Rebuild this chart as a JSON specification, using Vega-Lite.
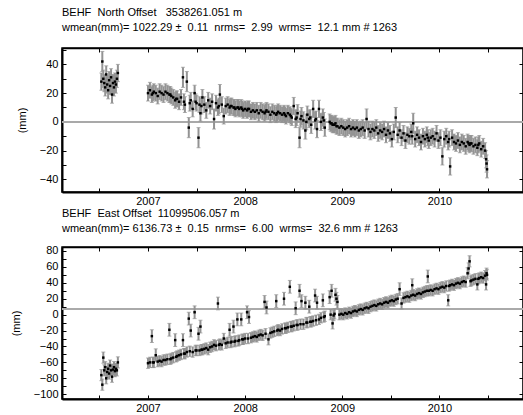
{
"$schema": "https://vega.github.io/schema/vega-lite/v6.json",
"padding": {"left": 9, "top": 6, "right": 0, "bottom": 0},
"spacing": 0,
"config": {
  "font": "Liberation Sans",
  "view": {"stroke": "black", "strokeWidth": 1.5},
  "axis": {"labelFont": "Liberation Sans", "labelFontSize": 11, "labelColor": "black", "titleFont": "Liberation Sans", "titleFontSize": 11, "titleFontWeight": "normal", "titleColor": "black", "domainColor": "black", "domainWidth": 2, "tickColor": "black", "tickSize": -4, "labelPadding": 8, "grid": false, "labelOverlap": false, "labelFlush": false},
  "axisBottom": {"labelPadding": 7},
  "title": {"font": "Liberation Sans", "fontSize": 11, "fontWeight": "normal", "color": "black", "anchor": "start", "frame": "group", "lineHeight": 15, "offset": 11}
},
"data": {"values": [
{"t":2006.52,"n":28,"ne":6,"e":-76,"ee":7},
{"t":2006.53,"n":42,"ne":7,"e":-88,"ee":7},
{"t":2006.54,"n":30,"ne":6,"e":-54,"ee":7},
{"t":2006.55,"n":27,"ne":6,"e":-70,"ee":7},
{"t":2006.56,"n":24,"ne":6,"e":-66,"ee":7},
{"t":2006.57,"n":33,"ne":6,"e":-80,"ee":7},
{"t":2006.58,"n":26,"ne":6,"e":-72,"ee":7},
{"t":2006.59,"n":22,"ne":6,"e":-68,"ee":7},
{"t":2006.60,"n":29,"ne":6,"e":-74,"ee":7},
{"t":2006.61,"n":25,"ne":6,"e":-64,"ee":7},
{"t":2006.62,"n":31,"ne":6,"e":-70,"ee":7},
{"t":2006.63,"n":19,"ne":6,"e":-78,"ee":7},
{"t":2006.64,"n":27,"ne":6,"e":-69,"ee":7},
{"t":2006.65,"n":24,"ne":6,"e":-66,"ee":7},
{"t":2006.66,"n":28,"ne":6,"e":-71,"ee":7},
{"t":2006.67,"n":26,"ne":6,"e":-68,"ee":7},
{"t":2006.68,"n":30,"ne":6,"e":-70,"ee":7},
{"t":2006.69,"n":34,"ne":6,"e":-60,"ee":7},
{"t":2007.00,"n":20,"ne":5.5,"e":-61,"ee":6.5},
{"t":2007.02,"n":22,"ne":5.5,"e":-60,"ee":6.5},
{"t":2007.04,"n":19,"ne":5.5,"e":-27,"ee":8},
{"t":2007.05,"n":20,"ne":5.5,"e":-60,"ee":6.5},
{"t":2007.06,"n":21,"ne":5.5,"e":-60,"ee":6.5},
{"t":2007.08,"n":20,"ne":5.5,"e":-51,"ee":8},
{"t":2007.10,"n":18,"ne":5.5,"e":-59,"ee":6.5},
{"t":2007.12,"n":21,"ne":5.5,"e":-58,"ee":6.5},
{"t":2007.14,"n":20,"ne":5.5,"e":-59,"ee":6.5},
{"t":2007.16,"n":19,"ne":5.5,"e":-57,"ee":6.5},
{"t":2007.18,"n":21,"ne":5.5,"e":-57,"ee":6.5},
{"t":2007.20,"n":20,"ne":5.5,"e":-56,"ee":6.5},
{"t":2007.22,"n":19,"ne":5.5,"e":-19,"ee":8},
{"t":2007.23,"n":19,"ne":5.5,"e":-56,"ee":6.5},
{"t":2007.24,"n":18,"ne":5.5,"e":-55,"ee":6.5},
{"t":2007.26,"n":17,"ne":5.5,"e":-54,"ee":6.5},
{"t":2007.28,"n":15,"ne":5.5,"e":-32,"ee":8},
{"t":2007.29,"n":16,"ne":5.5,"e":-53,"ee":6.5},
{"t":2007.30,"n":16,"ne":5.5,"e":-52,"ee":6.5},
{"t":2007.32,"n":14,"ne":5.5,"e":-51,"ee":6.5},
{"t":2007.34,"n":17,"ne":5.5,"e":-50,"ee":6.5},
{"t":2007.36,"n":31,"ne":7,"e":-32,"ee":8},
{"t":2007.37,"n":14,"ne":5.5,"e":-49,"ee":6.5},
{"t":2007.38,"n":12,"ne":5.5,"e":-49,"ee":6.5},
{"t":2007.40,"n":28,"ne":7,"e":-47,"ee":6.5},
{"t":2007.42,"n":-4,"ne":7,"e":-5,"ee":8},
{"t":2007.43,"n":13,"ne":5.5,"e":-46,"ee":6.5},
{"t":2007.44,"n":15,"ne":5.5,"e":-20,"ee":8},
{"t":2007.46,"n":9,"ne":5.5,"e":-47,"ee":6.5},
{"t":2007.48,"n":20,"ne":5.5,"e":3,"ee":8},
{"t":2007.49,"n":14,"ne":5.5,"e":-45,"ee":6.5},
{"t":2007.50,"n":13,"ne":5.5,"e":-45,"ee":6.5},
{"t":2007.52,"n":-11,"ne":7,"e":-24,"ee":8},
{"t":2007.53,"n":12,"ne":5.5,"e":-45,"ee":6.5},
{"t":2007.54,"n":6,"ne":5.5,"e":-15,"ee":8},
{"t":2007.55,"n":11,"ne":5.5,"e":-44,"ee":6.5},
{"t":2007.56,"n":17,"ne":5.5,"e":-44,"ee":6.5},
{"t":2007.58,"n":12,"ne":5.5,"e":-43,"ee":6.5},
{"t":2007.60,"n":8,"ne":5.5,"e":-42,"ee":6.5},
{"t":2007.62,"n":15,"ne":5.5,"e":-44,"ee":6.5},
{"t":2007.64,"n":11,"ne":5.5,"e":-41,"ee":6.5},
{"t":2007.66,"n":14,"ne":5.5,"e":-40,"ee":6.5},
{"t":2007.68,"n":2,"ne":7,"e":-38,"ee":6.5},
{"t":2007.70,"n":13,"ne":5.5,"e":-39,"ee":6.5},
{"t":2007.72,"n":10,"ne":5.5,"e":14,"ee":8},
{"t":2007.73,"n":11,"ne":5.5,"e":-38,"ee":6.5},
{"t":2007.74,"n":19,"ne":7,"e":-37,"ee":6.5},
{"t":2007.76,"n":12,"ne":5.5,"e":-38,"ee":6.5},
{"t":2007.78,"n":4,"ne":5.5,"e":-30,"ee":6.5},
{"t":2007.80,"n":11,"ne":5.5,"e":-36,"ee":6.5},
{"t":2007.82,"n":12,"ne":5.5,"e":-35,"ee":6.5},
{"t":2007.84,"n":10,"ne":5.5,"e":-19,"ee":8},
{"t":2007.85,"n":11,"ne":5.5,"e":-35,"ee":6.5},
{"t":2007.86,"n":11,"ne":5.5,"e":-34,"ee":6.5},
{"t":2007.88,"n":10,"ne":5.5,"e":-15,"ee":8},
{"t":2007.89,"n":10,"ne":5.5,"e":-34,"ee":6.5},
{"t":2007.90,"n":9,"ne":5.5,"e":-33,"ee":6.5},
{"t":2007.92,"n":10,"ne":5.5,"e":-6,"ee":8},
{"t":2007.93,"n":10,"ne":5.5,"e":-33,"ee":6.5},
{"t":2007.94,"n":9,"ne":5.5,"e":-32,"ee":6.5},
{"t":2007.96,"n":10,"ne":5.5,"e":-6,"ee":8},
{"t":2007.97,"n":9,"ne":5.5,"e":-31,"ee":6.5},
{"t":2007.98,"n":8,"ne":5.5,"e":-31,"ee":6.5},
{"t":2008.00,"n":9,"ne":5.5,"e":-30,"ee":6.5},
{"t":2008.02,"n":8,"ne":5.5,"e":3,"ee":8},
{"t":2008.03,"n":9,"ne":5.5,"e":-30,"ee":6.5},
{"t":2008.04,"n":9,"ne":5.5,"e":-3,"ee":8},
{"t":2008.06,"n":7,"ne":5.5,"e":-29,"ee":6.5},
{"t":2008.08,"n":8,"ne":5.5,"e":-28,"ee":6.5},
{"t":2008.10,"n":7,"ne":5.5,"e":-27,"ee":6.5},
{"t":2008.12,"n":8,"ne":5.5,"e":-28,"ee":6.5},
{"t":2008.14,"n":6,"ne":5.5,"e":-26,"ee":6.5},
{"t":2008.16,"n":8,"ne":5.5,"e":-25,"ee":6.5},
{"t":2008.18,"n":7,"ne":5.5,"e":-26,"ee":6.5},
{"t":2008.20,"n":6,"ne":5.5,"e":16,"ee":8},
{"t":2008.21,"n":7,"ne":5.5,"e":-24,"ee":6.5},
{"t":2008.22,"n":8,"ne":5.5,"e":9,"ee":8},
{"t":2008.24,"n":7,"ne":5.5,"e":-31,"ee":7},
{"t":2008.26,"n":5,"ne":5.5,"e":-23,"ee":6.5},
{"t":2008.28,"n":7,"ne":5.5,"e":-22,"ee":6.5},
{"t":2008.30,"n":6,"ne":5.5,"e":-21,"ee":6.5},
{"t":2008.32,"n":5,"ne":5.5,"e":17,"ee":8},
{"t":2008.33,"n":6,"ne":5.5,"e":-20,"ee":6.5},
{"t":2008.34,"n":7,"ne":5.5,"e":-19,"ee":6.5},
{"t":2008.36,"n":6,"ne":5.5,"e":-20,"ee":6.5},
{"t":2008.38,"n":5,"ne":5.5,"e":-18,"ee":6.5},
{"t":2008.40,"n":6,"ne":5.5,"e":20,"ee":8},
{"t":2008.41,"n":5,"ne":5.5,"e":-17,"ee":6.5},
{"t":2008.42,"n":4,"ne":5.5,"e":-17,"ee":6.5},
{"t":2008.44,"n":6,"ne":5.5,"e":-16,"ee":6.5},
{"t":2008.46,"n":5,"ne":5.5,"e":35,"ee":8},
{"t":2008.47,"n":4,"ne":5.5,"e":-15,"ee":6.5},
{"t":2008.48,"n":3,"ne":5.5,"e":-15,"ee":6.5},
{"t":2008.50,"n":11,"ne":6,"e":-14,"ee":6.5},
{"t":2008.52,"n":2,"ne":6,"e":8,"ee":8},
{"t":2008.53,"n":3,"ne":5.5,"e":-13,"ee":6.5},
{"t":2008.54,"n":6,"ne":6,"e":-13,"ee":6.5},
{"t":2008.56,"n":-11,"ne":7,"e":30,"ee":8},
{"t":2008.57,"n":2,"ne":5.5,"e":-12,"ee":6.5},
{"t":2008.58,"n":4,"ne":6,"e":17,"ee":8},
{"t":2008.60,"n":1,"ne":6,"e":-12,"ee":6.5},
{"t":2008.62,"n":-6,"ne":6,"e":15,"ee":8},
{"t":2008.63,"n":0,"ne":5.5,"e":-10,"ee":6.5},
{"t":2008.64,"n":5,"ne":6,"e":-10,"ee":6.5},
{"t":2008.66,"n":2,"ne":6,"e":10,"ee":8},
{"t":2008.67,"n":3,"ne":5.5,"e":-9,"ee":6.5},
{"t":2008.68,"n":-2,"ne":6,"e":-9,"ee":6.5},
{"t":2008.70,"n":9,"ne":6,"e":-8,"ee":6.5},
{"t":2008.72,"n":1,"ne":6,"e":24,"ee":8},
{"t":2008.73,"n":2,"ne":5.5,"e":-7,"ee":6.5},
{"t":2008.74,"n":-5,"ne":6,"e":15,"ee":8},
{"t":2008.76,"n":9,"ne":6,"e":-6,"ee":6.5},
{"t":2008.78,"n":0,"ne":6,"e":-4,"ee":6.5},
{"t":2008.80,"n":3,"ne":6,"e":18,"ee":8},
{"t":2008.81,"n":1,"ne":5.5,"e":-3,"ee":6.5},
{"t":2008.82,"n":-4,"ne":6,"e":-2,"ee":6.5},
{"t":2008.87,"n":0,"ne":5.5,"e":22,"ee":8},
{"t":2008.88,"n":-1,"ne":5.5,"e":0,"ee":6.5},
{"t":2008.89,"n":-1,"ne":5.5,"e":30,"ee":8},
{"t":2008.90,"n":-2,"ne":5.5,"e":-11,"ee":7},
{"t":2008.91,"n":-2,"ne":5.5,"e":-1,"ee":6.5},
{"t":2008.92,"n":-2,"ne":5.5,"e":1,"ee":6.5},
{"t":2008.93,"n":-1,"ne":5.5,"e":25,"ee":8},
{"t":2008.94,"n":-3,"ne":5.5,"e":20,"ee":8},
{"t":2008.95,"n":-3,"ne":5.5,"e":16,"ee":8},
{"t":2008.97,"n":-4,"ne":5.5,"e":0,"ee":6.5},
{"t":2008.99,"n":-3,"ne":5.5,"e":1,"ee":6.5},
{"t":2009.01,"n":-4,"ne":5.5,"e":0,"ee":6.5},
{"t":2009.03,"n":-5,"ne":5.5,"e":2,"ee":6.5},
{"t":2009.05,"n":-4,"ne":5.5,"e":1,"ee":6.5},
{"t":2009.07,"n":-3,"ne":5.5,"e":3,"ee":6.5},
{"t":2009.09,"n":-5,"ne":5.5,"e":2,"ee":6.5},
{"t":2009.11,"n":-4,"ne":5.5,"e":4,"ee":6.5},
{"t":2009.13,"n":-5,"ne":5.5,"e":5,"ee":6.5},
{"t":2009.15,"n":-4,"ne":5.5,"e":4,"ee":6.5},
{"t":2009.17,"n":-6,"ne":5.5,"e":6,"ee":6.5},
{"t":2009.19,"n":-5,"ne":5.5,"e":7,"ee":6.5},
{"t":2009.21,"n":-4,"ne":5.5,"e":6,"ee":6.5},
{"t":2009.23,"n":-6,"ne":5.5,"e":8,"ee":6.5},
{"t":2009.25,"n":2,"ne":7,"e":9,"ee":6.5},
{"t":2009.27,"n":-5,"ne":5.5,"e":8,"ee":6.5},
{"t":2009.29,"n":-7,"ne":5.5,"e":10,"ee":6.5},
{"t":2009.31,"n":-5,"ne":5.5,"e":11,"ee":6.5},
{"t":2009.33,"n":-6,"ne":5.5,"e":12,"ee":6.5},
{"t":2009.35,"n":-4,"ne":5.5,"e":11,"ee":6.5},
{"t":2009.37,"n":-8,"ne":5.5,"e":13,"ee":6.5},
{"t":2009.39,"n":-6,"ne":5.5,"e":14,"ee":6.5},
{"t":2009.41,"n":-7,"ne":5.5,"e":13,"ee":6.5},
{"t":2009.43,"n":-5,"ne":5.5,"e":15,"ee":6.5},
{"t":2009.45,"n":-9,"ne":5.5,"e":16,"ee":6.5},
{"t":2009.47,"n":-6,"ne":5.5,"e":15,"ee":6.5},
{"t":2009.49,"n":-8,"ne":5.5,"e":17,"ee":6.5},
{"t":2009.51,"n":-12,"ne":5.5,"e":18,"ee":6.5},
{"t":2009.53,"n":-7,"ne":5.5,"e":17,"ee":6.5},
{"t":2009.55,"n":3,"ne":7,"e":19,"ee":6.5},
{"t":2009.57,"n":-9,"ne":5.5,"e":20,"ee":6.5},
{"t":2009.59,"n":-6,"ne":5.5,"e":32,"ee":8},
{"t":2009.61,"n":-11,"ne":5.5,"e":14,"ee":7},
{"t":2009.63,"n":-8,"ne":5.5,"e":21,"ee":6.5},
{"t":2009.65,"n":-13,"ne":5.5,"e":22,"ee":6.5},
{"t":2009.67,"n":-9,"ne":5.5,"e":23,"ee":6.5},
{"t":2009.69,"n":-10,"ne":5.5,"e":22,"ee":6.5},
{"t":2009.71,"n":-7,"ne":5.5,"e":24,"ee":6.5},
{"t":2009.72,"n":-10,"ne":5.5,"e":37,"ee":8},
{"t":2009.73,"n":-1,"ne":7,"e":25,"ee":6.5},
{"t":2009.75,"n":-12,"ne":5.5,"e":24,"ee":6.5},
{"t":2009.77,"n":-9,"ne":5.5,"e":26,"ee":6.5},
{"t":2009.79,"n":-11,"ne":5.5,"e":27,"ee":6.5},
{"t":2009.81,"n":-14,"ne":5.5,"e":26,"ee":6.5},
{"t":2009.83,"n":-10,"ne":5.5,"e":28,"ee":6.5},
{"t":2009.85,"n":-12,"ne":5.5,"e":29,"ee":6.5},
{"t":2009.87,"n":-9,"ne":5.5,"e":30,"ee":6.5},
{"t":2009.88,"n":-11,"ne":5.5,"e":48,"ee":8},
{"t":2009.89,"n":-13,"ne":5.5,"e":30,"ee":6.5},
{"t":2009.91,"n":-11,"ne":5.5,"e":31,"ee":6.5},
{"t":2009.93,"n":-10,"ne":5.5,"e":30,"ee":6.5},
{"t":2009.95,"n":-12,"ne":5.5,"e":32,"ee":6.5},
{"t":2009.97,"n":-8,"ne":5.5,"e":33,"ee":6.5},
{"t":2009.99,"n":-13,"ne":5.5,"e":32,"ee":6.5},
{"t":2010.01,"n":-11,"ne":5.5,"e":34,"ee":6.5},
{"t":2010.03,"n":-24,"ne":6,"e":35,"ee":6.5},
{"t":2010.05,"n":-12,"ne":5.5,"e":34,"ee":6.5},
{"t":2010.07,"n":-10,"ne":5.5,"e":36,"ee":6.5},
{"t":2010.09,"n":-14,"ne":5.5,"e":18,"ee":7},
{"t":2010.10,"n":-12,"ne":5.5,"e":36,"ee":6.5},
{"t":2010.11,"n":-31,"ne":6,"e":37,"ee":6.5},
{"t":2010.13,"n":-11,"ne":5.5,"e":38,"ee":6.5},
{"t":2010.15,"n":-14,"ne":5.5,"e":37,"ee":6.5},
{"t":2010.17,"n":-15,"ne":5.5,"e":39,"ee":6.5},
{"t":2010.19,"n":-13,"ne":5.5,"e":40,"ee":6.5},
{"t":2010.21,"n":-16,"ne":5.5,"e":39,"ee":6.5},
{"t":2010.23,"n":-14,"ne":5.5,"e":41,"ee":6.5},
{"t":2010.25,"n":-15,"ne":5.5,"e":42,"ee":6.5},
{"t":2010.27,"n":-17,"ne":5.5,"e":41,"ee":6.5},
{"t":2010.29,"n":-14,"ne":5.5,"e":52,"ee":7},
{"t":2010.30,"n":-15,"ne":5.5,"e":58,"ee":7},
{"t":2010.31,"n":-16,"ne":5.5,"e":67,"ee":7},
{"t":2010.32,"n":-15,"ne":5.5,"e":42,"ee":6.5},
{"t":2010.33,"n":-15,"ne":5.5,"e":43,"ee":6.5},
{"t":2010.35,"n":-17,"ne":5.5,"e":44,"ee":6.5},
{"t":2010.37,"n":-16,"ne":5.5,"e":45,"ee":6.5},
{"t":2010.39,"n":-18,"ne":5.5,"e":38,"ee":7},
{"t":2010.40,"n":-16,"ne":5.5,"e":45,"ee":6.5},
{"t":2010.41,"n":-15,"ne":5.5,"e":46,"ee":6.5},
{"t":2010.43,"n":-19,"ne":5.5,"e":47,"ee":6.5},
{"t":2010.45,"n":-17,"ne":5.5,"e":46,"ee":6.5},
{"t":2010.47,"n":-20,"ne":5.5,"e":49,"ee":6.5},
{"t":2010.48,"n":-26,"ne":6,"e":38,"ee":7},
{"t":2010.485,"n":-29,"ne":6,"e":52,"ee":6.5},
{"t":2010.49,"n":-33,"ne":6,"e":50,"ee":6.5}
]},
"vconcat": [
{
  "width": 461, "height": 144,
  "title": {"text": ["BEHF\u00a0\u00a0North Offset\u00a0\u00a0\u00a03538261.051 m", "wmean(mm)= 1022.29 \u00b1\u00a0\u00a00.11\u00a0\u00a0nrms=\u00a0\u00a02.99\u00a0\u00a0wrms=\u00a0\u00a012.1 mm # 1263"]},
  "layer": [
    {"mark": {"type": "rule", "color": "#aaaaaa", "strokeWidth": 1},
     "encoding": {"y": {"datum": 0, "type": "quantitative", "scale": {"domain": [-48.8, 51.4], "nice": false, "zero": false}, "axis": null}}},
    {"mark": {"type": "errorbar", "color": "#939393", "thickness": 2, "ticks": {"size": 4, "color": "#939393", "thickness": 1}},
     "encoding": {
       "x": {"field": "t", "type": "quantitative", "scale": {"domain": [2006.115, 2010.86], "nice": false, "zero": false},
             "axis": {"orient": "bottom", "title": null, "values": [2006.5, 2007, 2007.5, 2008, 2008.5, 2009, 2009.5, 2010, 2010.5], "labelExpr": "datum.value % 1 == 0 ? '' + datum.value : ''"}},
       "y": {"field": "n", "type": "quantitative", "scale": {"domain": [-48.8, 51.4], "nice": false, "zero": false},
             "axis": {"orient": "left", "title": "(mm)", "titlePadding": 12, "values": [-40, -30, -20, -10, 0, 10, 20, 30, 40, 50], "labelExpr": "datum.value % 20 == 0 ? datum.label : ''"}},
       "yError": {"field": "ne"}}},
    {"mark": {"type": "point", "shape": "square", "filled": true, "color": "black", "size": 6, "opacity": 1},
     "encoding": {
       "x": {"field": "t", "type": "quantitative", "axis": {"orient": "top", "title": null, "labels": false, "domainWidth": 1.5, "values": [2006.5, 2007, 2007.5, 2008, 2008.5, 2009, 2009.5, 2010, 2010.5]}},
       "y": {"field": "n", "type": "quantitative", "axis": {"orient": "right", "title": null, "labels": false, "domainWidth": 1.5, "values": [-40, -20, 0, 20, 40]}}}}
  ],
  "resolve": {"axis": {"x": "independent", "y": "independent"}}
},
{
  "width": 461, "height": 152,
  "title": {"text": ["BEHF\u00a0\u00a0East Offset\u00a0\u00a011099506.057 m", "wmean(mm)= 6136.73 \u00b1\u00a0\u00a00.15\u00a0\u00a0nrms=\u00a0\u00a06.00\u00a0\u00a0wrms=\u00a0\u00a032.6 mm # 1263"]},
  "layer": [
    {"mark": {"type": "rule", "color": "#aaaaaa", "strokeWidth": 1},
     "encoding": {"y": {"datum": 7, "type": "quantitative", "scale": {"domain": [-106, 85], "nice": false, "zero": false}, "axis": null}}},
    {"mark": {"type": "errorbar", "color": "#939393", "thickness": 2, "ticks": {"size": 4, "color": "#939393", "thickness": 1}},
     "encoding": {
       "x": {"field": "t", "type": "quantitative", "scale": {"domain": [2006.115, 2010.86], "nice": false, "zero": false},
             "axis": {"orient": "bottom", "title": null, "values": [2006.5, 2007, 2007.5, 2008, 2008.5, 2009, 2009.5, 2010, 2010.5], "labelExpr": "datum.value % 1 == 0 ? '' + datum.value : ''"}},
       "y": {"field": "e", "type": "quantitative", "scale": {"domain": [-106, 85], "nice": false, "zero": false},
             "axis": {"orient": "left", "title": "(mm)", "titlePadding": 12, "values": [-100, -90, -80, -70, -60, -50, -40, -30, -20, -10, 0, 10, 20, 30, 40, 50, 60, 70, 80], "labelExpr": "datum.value % 20 == 0 ? datum.label : ''"}},
       "yError": {"field": "ee"}}},
    {"mark": {"type": "point", "shape": "square", "filled": true, "color": "black", "size": 6, "opacity": 1},
     "encoding": {
       "x": {"field": "t", "type": "quantitative", "axis": {"orient": "top", "title": null, "labels": false, "domainWidth": 1.5, "values": [2006.5, 2007, 2007.5, 2008, 2008.5, 2009, 2009.5, 2010, 2010.5]}},
       "y": {"field": "e", "type": "quantitative", "axis": {"orient": "right", "title": null, "labels": false, "domainWidth": 1.5, "values": [-100, -80, -60, -40, -20, 0, 20, 40, 60, 80]}}}}
  ],
  "resolve": {"axis": {"x": "independent", "y": "independent"}}
}
]
}
